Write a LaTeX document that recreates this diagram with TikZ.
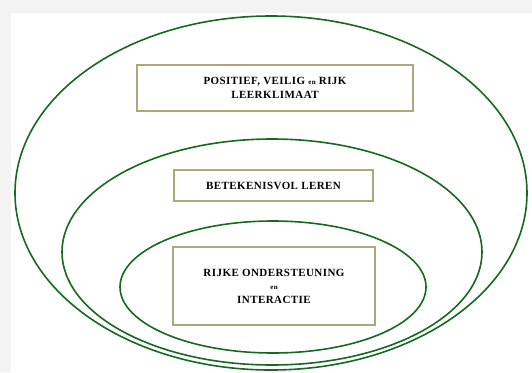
\documentclass[tikz,border=0pt]{standalone}
\usepackage{fontspec}
\setmainfont{Liberation Serif}
\usetikzlibrary{shapes}
\usetikzlibrary{arrows}

\definecolor{ringgreen}{RGB}{22,105,34}
\definecolor{boxline}{RGB}{172,168,122}
\definecolor{pagegray}{RGB}{243,243,243}

\begin{document}
\begin{tikzpicture}[x=1pt,y=-1pt]
			\tikzstyle{ring}=[ellipse,draw=ringgreen,line width=1.6pt,inner sep=0pt]
			\tikzstyle{lbox}=[rectangle,draw=boxline,line width=1.6pt,fill=white,inner sep=0pt,align=center,font=\bfseries\fontsize{11}{13.5}\selectfont\addfontfeatures{LetterSpace=4}]
			
			\useasboundingbox (0,0) rectangle (532,372);
			\fill[pagegray] (0,0) rectangle (532,372);
			\fill[white] (11,13) rectangle (532,372);
			
			\node[ring,minimum width=512pt,minimum height=354pt] (outer) at (271,193) {};
			\node[ring,minimum width=420pt,minimum height=226pt] (middle) at (272,252) {};
			\node[ring,minimum width=306pt,minimum height=132pt] (inner) at (273,287) {};
			
			\node[lbox,minimum width=276pt,minimum height=46pt] (klimaat) at (275,88) {POSITIEF, VEILIG {\scriptsize en} RIJK\\LEERKLIMAAT};
			\node[lbox,minimum width=199pt,minimum height=31pt] (leren) at (273.5,185.5) {BETEKENISVOL LEREN};
			\node[lbox,minimum width=202pt,minimum height=78pt] (steun) at (274,286) {RIJKE ONDERSTEUNING\\{\scriptsize en}\\INTERACTIE};
			;\end{tikzpicture}
\end{document}
